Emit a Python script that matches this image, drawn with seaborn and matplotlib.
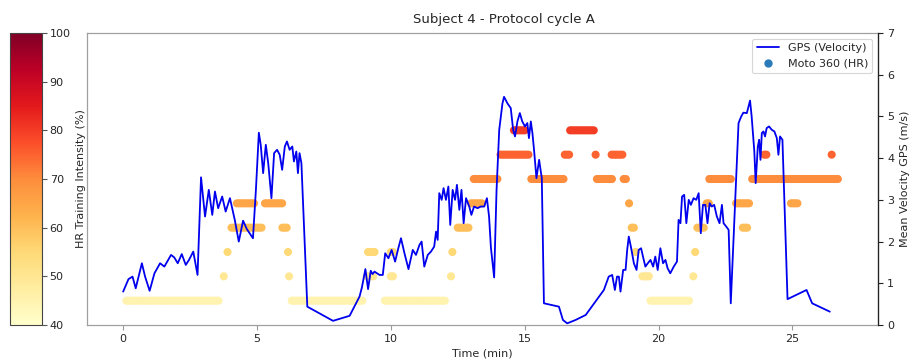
import numpy as np
import pandas as pd
import matplotlib
matplotlib.use("Agg")
import matplotlib.pyplot as plt
from matplotlib.lines import Line2D
from matplotlib.colors import Normalize
from matplotlib.cm import ScalarMappable
import seaborn as sns

# ---------------- data ----------------
gps_time = [0.00, 0.20, 0.35, 0.47, 0.70, 0.82, 0.99, 1.17, 1.38, 1.54, 1.79, 1.91, 2.04, 2.19, 2.34,
            2.46, 2.62, 2.78, 2.91, 3.06, 3.20, 3.33, 3.43, 3.55, 3.70, 3.83, 3.99, 4.17, 4.32, 4.48,
            4.62, 4.85, 4.96, 5.07, 5.14, 5.23, 5.33, 5.42, 5.54, 5.64, 5.75, 5.85, 5.94, 6.04, 6.12,
            6.22, 6.32, 6.38, 6.47, 6.53, 6.59, 6.66, 6.88, 7.84, 8.46, 8.83, 8.92, 9.05, 9.15, 9.25,
            9.32, 9.39, 9.58, 9.70, 9.79, 9.91, 10.03, 10.16, 10.28, 10.38, 10.51, 10.66, 10.82, 10.94,
            11.07, 11.15, 11.25, 11.38, 11.50, 11.62, 11.69, 11.75, 11.81, 11.90, 11.97, 12.06, 12.15,
            12.22, 12.31, 12.40, 12.47, 12.56, 12.64, 12.72, 12.81, 12.93, 13.01, 13.11, 13.24, 13.36,
            13.49, 13.59, 13.67, 13.74, 13.80, 13.86, 13.95, 14.05, 14.17, 14.23, 14.36, 14.48, 14.57,
            14.64, 14.73, 14.82, 14.91, 15.01, 15.10, 15.16, 15.23, 15.29, 15.35, 15.44, 15.54, 15.64,
            15.72, 16.28, 16.43, 16.59, 16.90, 17.28, 17.96, 18.14, 18.27, 18.37, 18.45, 18.52, 18.58,
            18.68, 18.77, 18.83, 18.89, 18.98, 19.08, 19.18, 19.26, 19.35, 19.42, 19.51, 19.60, 19.70,
            19.80, 19.88, 19.97, 20.07, 20.17, 20.26, 20.34, 20.44, 20.57, 20.69, 20.75, 20.82, 20.88,
            20.96, 21.04, 21.13, 21.21, 21.31, 21.41, 21.50, 21.58, 21.66, 21.75, 21.83, 21.91, 21.99,
            22.08, 22.18, 22.28, 22.37, 22.43, 22.53, 22.62, 22.70, 22.99, 23.09, 23.17, 23.30, 23.42,
            23.48, 23.58, 23.63, 23.71, 23.76, 23.81, 23.86, 23.92, 23.98, 24.04, 24.13, 24.23, 24.33,
            24.42, 24.48, 24.54, 24.63, 24.82, 25.53, 25.74, 26.40]
gps_speed = [0.80, 1.10, 1.16, 0.88, 1.48, 1.16, 0.82, 1.24, 1.48, 1.40, 1.68, 1.62, 1.48, 1.70, 1.44,
             1.56, 1.76, 1.20, 3.54, 2.60, 3.24, 2.64, 3.20, 2.80, 3.08, 2.72, 3.04, 2.52, 2.00, 2.50,
             2.30, 2.08, 3.24, 4.61, 4.32, 3.64, 4.32, 3.88, 3.04, 4.12, 4.20, 4.08, 3.72, 4.28, 4.40,
             4.20, 4.28, 3.92, 4.16, 3.64, 4.12, 3.88, 0.44, 0.10, 0.22, 0.68, 0.90, 1.34, 0.86, 1.30,
             1.22, 1.28, 1.20, 1.20, 1.72, 1.60, 1.80, 1.52, 1.84, 2.08, 1.72, 1.34, 1.80, 1.68,
             1.92, 2.00, 1.40, 1.68, 1.76, 1.88, 2.24, 2.04, 3.16, 3.00, 3.28, 3.00, 3.32,
             2.40, 3.24, 3.00, 3.36, 2.76, 3.24, 2.44, 3.04, 2.84, 2.64, 2.84, 2.80, 2.84,
             2.84, 3.04, 2.60, 1.85, 1.50, 1.14, 3.24, 4.68, 5.31, 5.47, 5.31, 5.20, 4.68,
             4.52, 4.88, 5.08, 4.88, 4.76, 4.84, 4.48, 4.88, 4.60, 4.20, 3.52, 3.96, 3.52,
             0.52, 0.44, 0.12, 0.04, 0.12, 0.24, 0.84, 1.16, 1.20, 0.84, 1.16, 1.16, 0.80,
             1.32, 1.32, 1.80, 2.12, 1.84, 1.48, 1.32, 1.80, 1.84, 1.64, 1.40, 1.48, 1.56,
             1.40, 1.64, 1.32, 1.84, 1.48, 1.56, 1.36, 1.24, 1.40, 1.52, 2.52, 2.44, 3.08,
             3.12, 2.44, 3.00, 2.88, 3.04, 3.00, 3.16, 2.20, 2.88, 2.88, 2.44, 2.92, 2.84,
             2.88, 2.60, 2.44, 2.88, 2.44, 2.36, 2.28, 0.52, 4.84, 5.00, 5.09, 5.08, 5.38,
             5.00, 4.16, 3.40, 4.28, 4.44, 3.96, 4.60, 4.64, 4.52, 4.72, 4.76, 4.68, 4.64,
             4.48, 4.08, 4.52, 4.44, 0.62, 0.84, 0.52, 0.32]

# HR readings (Moto 360): runs of samples at each intensity level (%), start/end time (min)
hr_level = [45, 45, 45, 45,
            50, 50, 50, 50, 50, 50, 50,
            55, 55, 55, 55, 55, 55, 55,
            60, 60, 60, 60, 60, 60,
            65, 65, 65, 65, 65, 65, 65,
            70, 70, 70, 70, 70, 70,
            75, 75, 75, 75, 75, 75,
            80, 80]
hr_start = [0.12, 6.30, 9.78, 19.70,
            3.76, 6.20, 9.10, 10.00, 12.25, 19.40, 21.30,
            3.90, 6.16, 9.15, 10.00, 12.30, 19.15, 21.37,
            4.05, 5.95, 12.50, 19.00, 21.45, 23.15,
            4.25, 5.30, 13.00, 18.90, 21.80, 22.90, 24.95,
            13.10, 15.25, 17.70, 18.70, 21.90, 23.50,
            14.10, 16.50, 17.65, 18.25, 23.95, 26.47,
            14.60, 16.70]
hr_end = [3.62, 9.00, 12.05, 21.15,
          3.76, 6.20, 9.40, 10.15, 12.30, 19.70, 21.30,
          3.90, 6.16, 9.40, 10.15, 12.35, 19.15, 21.37,
          5.20, 6.15, 12.90, 19.15, 21.75, 23.35,
          4.95, 6.00, 13.45, 18.90, 21.95, 23.40, 25.25,
          14.05, 16.50, 18.30, 18.85, 22.75, 26.75,
          15.20, 16.68, 17.72, 18.65, 24.05, 26.47,
          15.05, 17.65]
hr_step = 0.08  # sampling interval of the watch readings (min)

title = "Subject 4 - Protocol cycle A"
xlabel = "Time (min)"
ylabel_right = "Mean Velocity GPS (m/s)"
cbar_label = "HR Training Intensity (%)"
legend_labels = ["GPS (Velocity)", "Moto 360 (HR)"]

# ---------------- build tables ----------------
rows = []
for lvl, s, e in zip(hr_level, hr_start, hr_end):
    for t in np.arange(s, e + 1e-9, hr_step):
        rows.append((t, lvl))
hr_df = pd.DataFrame(rows, columns=["time", "hr"])
gps_df = pd.DataFrame({"time": gps_time, "speed": gps_speed})

# ---------------- plot ----------------
sns.set_theme(style="white")
plt.rcParams["font.family"] = ["DejaVu Sans"]

W, H = 909, 362
fig = plt.figure(figsize=(W / 100, H / 100), dpi=100)
bottom = 1 - 325 / H
height = 292 / H
ax = fig.add_axes([87 / W, bottom, 791 / W, height])
cax = fig.add_axes([10 / W, bottom, 32 / W, height])

cmap = "YlOrRd"
norm = Normalize(40, 100)
sns.scatterplot(data=hr_df, x="time", y="hr", hue="hr", palette=cmap, hue_norm=norm,
                s=34, linewidth=0, legend=False, ax=ax, zorder=2)
ax.set_ylim(40, 100)
ax.set_xlim(-1.35, 28.2)
ax.set_yticks([])
ax.set_ylabel("")
ax.set_xlabel(xlabel, fontsize=8, color="#262626", labelpad=3)
ax.set_xticks([0, 5, 10, 15, 20, 25])
ax.tick_params(axis="x", bottom=True, length=3.5, width=0.8, color="#999999",
               labelsize=8, labelcolor="#262626", pad=3)
for sp in ax.spines.values():
    sp.set_color("#a0a0a0")
    sp.set_linewidth(0.9)

ax2 = ax.twinx()
sns.lineplot(data=gps_df, x="time", y="speed", ax=ax2, color="#0000ee", linewidth=1.3,
             estimator=None, sort=False)
ax2.set_ylim(0, 7)
ax2.set_xlim(-1.35, 28.2)
ax2.set_yticks(range(0, 8))
ax2.set_ylabel(ylabel_right, fontsize=8, color="#262626", labelpad=4)
ax2.tick_params(axis="y", right=True, length=3.5, width=0.8, color="#222222",
                labelsize=8, labelcolor="#262626", pad=3)
for name, sp in ax2.spines.items():
    if name == "right":
        sp.set_color("#222222")
        sp.set_linewidth(0.9)
    else:
        sp.set_visible(False)

handles = [Line2D([], [], color="#0000ee", lw=1.3),
           Line2D([], [], marker="o", ls="", color="#2b7bba", markersize=5)]
leg = ax2.legend(handles, legend_labels, loc="upper right", fontsize=8, frameon=True,
                 borderpad=0.4, handlelength=2.0, labelspacing=0.5)
leg.get_frame().set_edgecolor("#cccccc")
leg.get_frame().set_linewidth(0.8)

sm = ScalarMappable(norm=norm, cmap=cmap)
cb = fig.colorbar(sm, cax=cax)
cb.set_ticks([40, 50, 60, 70, 80, 90, 100])
cb.ax.tick_params(labelsize=8, length=3.5, width=0.8, color="#555555",
                  labelcolor="#262626", pad=2, right=True)
cb.outline.set_edgecolor("#444444")
cb.outline.set_linewidth(0.8)
cb.set_label(cbar_label, fontsize=8, color="#262626", labelpad=4)

fig.text(504 / W, 1 - 19 / H, title, ha="center", va="center", fontsize=9.5, color="#262626")

fig.savefig("out.png", dpi=100, facecolor="white")
